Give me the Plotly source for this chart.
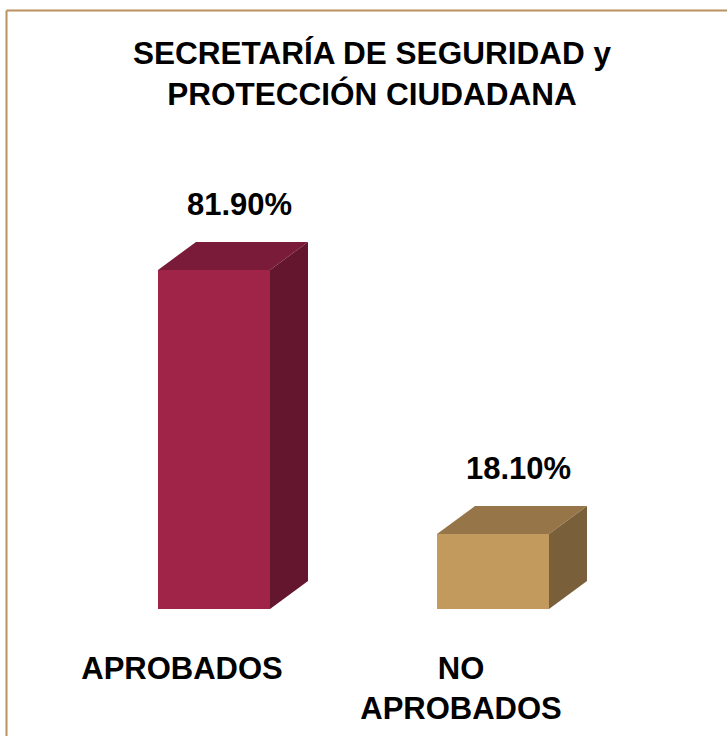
import plotly.graph_objects as go

# ---- data ----
categories = ["APROBADOS", "NO<br>APROBADOS"]
values = [81.9, 18.1]
value_labels = ["81.90%", "18.10%"]
front_colors = ["#A02348", "#C29A5E"]
top_colors = ["#7A1B3A", "#967548"]
side_colors = ["#64162E", "#7A603A"]
title_text = "SECRETARÍA DE SEGURIDAD y<br>PROTECCIÓN CIUDADANA"

# ---- geometry (in axis units) ----
W, H = 727, 736
plot_h = 609
px_per_unit_y = 4.14
px_per_cat = 279.0
tick0_px = 182.0
bar_w = 112 / px_per_cat
front_shift = 32 / px_per_cat          # front-face center relative to tick
depth_x = 38 / px_per_cat
depth_y = 28 / px_per_unit_y

xs = list(range(len(categories)))
FONT = "Liberation Sans, Arial, sans-serif"

fig = go.Figure()

# front faces
fig.add_trace(go.Bar(
    x=xs, y=values, width=[bar_w] * len(xs),
    offset=[front_shift - bar_w / 2] * len(xs),
    marker=dict(color=front_colors, line=dict(width=0)),
    hoverinfo="skip", showlegend=False,
))

# top and side faces
for i, v in enumerate(values):
    x0 = xs[i] + front_shift - bar_w / 2
    x1 = x0 + bar_w
    # top
    fig.add_trace(go.Scatter(
        x=[x0, x1, x1 + depth_x, x0 + depth_x, x0],
        y=[v, v, v + depth_y, v + depth_y, v],
        fill="toself", fillcolor=top_colors[i], mode="lines",
        line=dict(width=0, color=top_colors[i]),
        hoverinfo="skip", showlegend=False,
    ))
    # side
    fig.add_trace(go.Scatter(
        x=[x1, x1 + depth_x, x1 + depth_x, x1, x1],
        y=[0, depth_y, v + depth_y, v, 0],
        fill="toself", fillcolor=side_colors[i], mode="lines",
        line=dict(width=0, color=side_colors[i]),
        hoverinfo="skip", showlegend=False,
    ))
    # value label
    fig.add_annotation(
        x=xs[i] + front_shift + 0.09, y=v + depth_y + 4.3,
        text=f"<b>{value_labels[i]}</b>", showarrow=False,
        xanchor="center", yanchor="bottom",
        font=dict(family=FONT, size=31, color="black"),
    )

x_min = -tick0_px / px_per_cat
x_max = (W - tick0_px) / px_per_cat
y_max = plot_h / px_per_unit_y

fig.update_layout(
    width=W, height=H,
    margin=dict(l=0, r=0, t=0, b=H - plot_h, pad=0),
    paper_bgcolor="white", plot_bgcolor="white",
    bargap=0,
    title=dict(
        text=f"<b>{title_text}</b>",
        x=372 / W, xanchor="center", xref="paper",
        y=1 - 64 / H, yanchor="top", yref="container",
        font=dict(family=FONT, size=31.5, color="black"),
    ),
    xaxis=dict(
        range=[x_min, x_max], tickmode="array", tickvals=xs,
        ticktext=[f"<b>{c}</b>" for c in categories],
        tickfont=dict(family=FONT, size=31, color="black"),
        showgrid=False, zeroline=False, showline=False, ticks="",
        ticklabelstandoff=38, fixedrange=True,
    ),
    yaxis=dict(
        range=[0, y_max], showgrid=False, zeroline=False,
        showline=False, showticklabels=False, ticks="", fixedrange=True,
    ),
    shapes=[
        dict(type="line", xref="paper", yref="paper",
             x0=6.5 / W, x1=1.0, y0=1 - 10.5 / plot_h, y1=1 - 10.5 / plot_h,
             line=dict(color="#B8925E", width=2)),
        dict(type="line", xref="paper", yref="paper",
             x0=6.5 / W, x1=6.5 / W, y0=1 - 10.5 / plot_h, y1=-(H - plot_h) / plot_h,
             line=dict(color="#B8925E", width=2)),
    ],
)

fig.write_html("out.html", config={"displayModeBar": False},
               post_script="document.body.style.margin='0';")
